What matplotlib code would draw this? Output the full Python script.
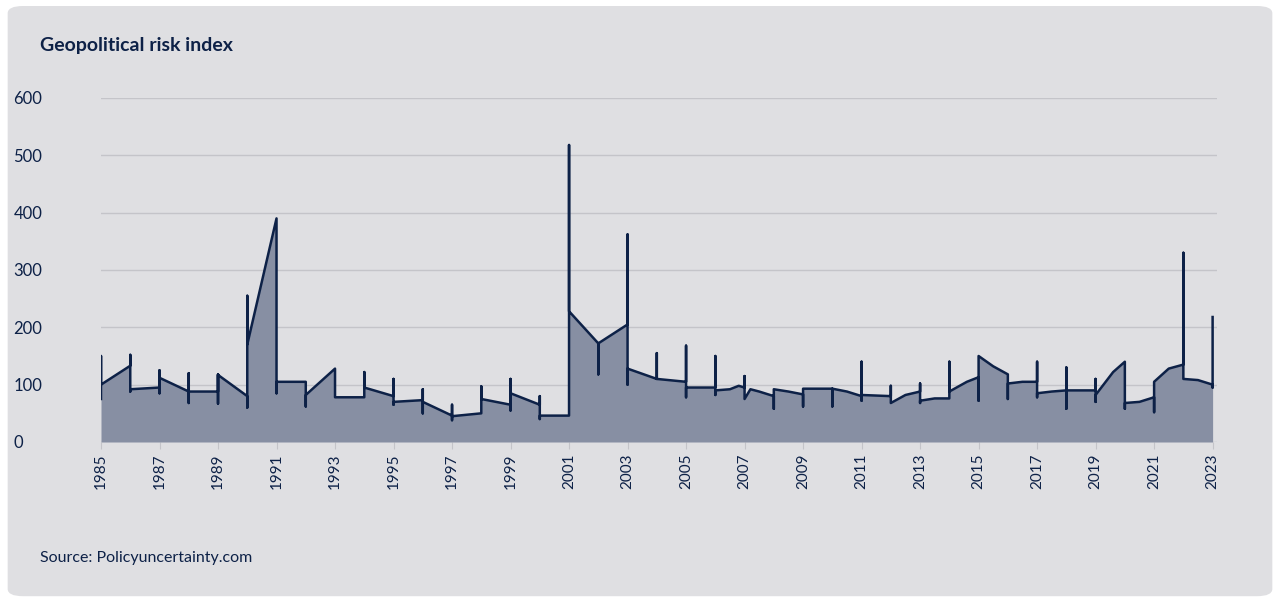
import matplotlib
matplotlib.use("Agg")
import matplotlib.pyplot as plt
from matplotlib.patches import FancyBboxPatch

plt.rcParams["font.family"] = "Lato"

years = [1985,1985,1985,1986,1986,1986,1986,1987,1987,1987,1987,1988,1988,1988,1988,1989,1989,1989,1989,1990,1990,1990,1990,1991,1991,1991,1992,1992,1992,1993,1993,1994,1994,1994,1995,1995,1995,1995,1996,1996,1996,1996,1997,1997,1997,1997,1998,1998,1998,1999,1999,1999,1999,2000,2000,2000,2000,2001,2001,2001,2002,2002,2002,2003,2003,2003,2003,2004,2004,2004,2005,2005,2005,2005,2006,2006,2006,2006,2006.5,2006.8,2007,2007,2007,2007.2,2007.5,2008,2008,2008,2008.5,2009,2009,2009,2010,2010,2010,2010.5,2011,2011,2011,2011,2012,2012,2012,2012.5,2013,2013,2013,2013,2013.5,2014,2014,2014,2014.6,2015,2015,2015,2015.5,2016,2016,2016,2016.5,2017,2017,2017,2017,2017.5,2018,2018,2018,2018,2019,2019,2019,2019,2019.6,2020,2020,2020,2020.5,2021,2021,2021,2021.5,2022,2022,2022,2022.5,2023,2023,2023]
values = [75,150,100,133,152,88,92,95,125,85,112,88,120,68,88,88,118,67,117,80,60,255,170,390,85,105,105,62,82,128,78,78,122,95,80,110,65,70,73,92,50,70,46,38,65,45,50,97,75,65,110,55,85,65,80,40,46,46,518,228,172,118,172,205,362,100,128,110,155,110,105,168,78,95,95,150,82,90,92,98,95,115,75,92,88,80,58,92,88,83,62,93,93,62,93,88,80,140,72,82,80,98,68,82,88,102,68,72,76,76,140,88,105,113,72,150,132,118,75,102,105,105,140,78,85,88,90,130,58,90,90,110,70,82,122,140,58,68,70,78,52,105,128,135,330,110,108,100,95,218]
tick_years = list(range(1985, 2024, 2))
y_ticks = [0, 100, 200, 300, 400, 500, 600]

navy = "#0d2147"
fig = plt.figure(figsize=(12.8, 6.01), dpi=100)
fig.patch.set_facecolor("white")
bg = FancyBboxPatch((0.006, 0.008), 0.988, 0.982, boxstyle="round,pad=0,rounding_size=0.012",
                    transform=fig.transFigure, facecolor="#dfdfe2", edgecolor="none", zorder=-10)
fig.patches.append(bg)
ax = fig.add_axes([101/1280, 1-442/601, (1217-101)/1280, (442-98)/601])
ax.set_zorder(5)
ax.set_facecolor("none")
ax.fill_between(years, values, 0, color="#878fa3", lw=0, zorder=2)
ax.plot(years, values, color=navy, lw=1.8, zorder=3)
ax.set_ylim(0, 600)
ax.set_yticks(y_ticks)
ax.set_xticks(tick_years)
ax.set_xticklabels([str(y) for y in tick_years], rotation=90)
ax.grid(axis="y", color="#c4c4c9", lw=1, zorder=1)
for s in ax.spines.values():
    s.set_visible(False)
ax.tick_params(axis="y", length=0, labelsize=12, labelcolor=navy, pad=63)
ax.tick_params(axis="x", length=5, color="#c4c4c9", labelsize=11, labelcolor=navy)
ax.set_xlim(1985, 2023.15)
for lbl in ax.get_yticklabels():
    lbl.set_horizontalalignment("left")
fig.text(40/1280, 1-45/601, "Geopolitical risk index", fontsize=14, fontweight="bold", color=navy, va="center")
fig.text(40/1280, 1-558/601, "Source: Policyuncertainty.com", fontsize=11.5, color=navy, va="center")
fig.savefig("out.png", dpi=100)
